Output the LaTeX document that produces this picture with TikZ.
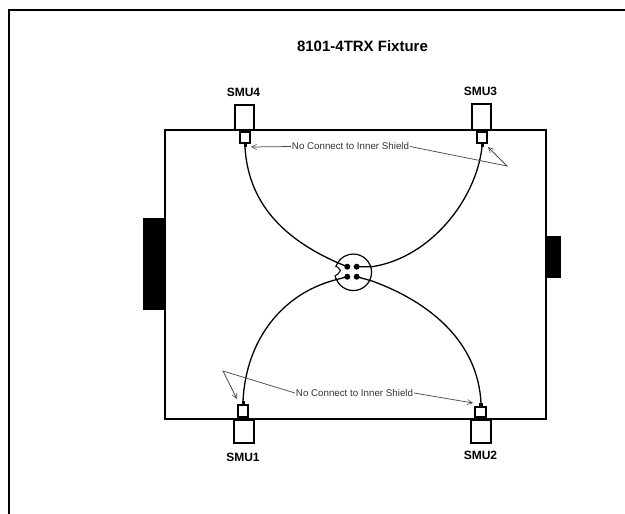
\documentclass[tikz,border=0pt]{standalone}
\usepackage{fontspec}
\setmainfont{Liberation Sans}
\usetikzlibrary{arrows.meta}
\tikzset{
  x=1pt,y=-1pt,
  outline/.style={draw=black,fill=white,line width=1.5pt,inner sep=0pt,outer sep=0pt,anchor=north west},
  blackblock/.style={draw=none,fill=black,inner sep=0pt,outer sep=0pt,anchor=north west},
  cable/.style={draw=black,line width=1.3pt},
  leader/.style={draw=black!70,line width=.75pt},
  leaderarrow/.style={leader,-{Straight Barb[length=5pt,width=5pt,line width=.6pt]}},
  smulabel/.style={font=\bfseries\fontsize{12}{14}\selectfont,inner sep=0pt},
  note/.style={font=\fontsize{9.75}{12}\selectfont,text=black!80,inner sep=0pt,outer sep=1pt},
  pindot/.style={circle,fill=black,minimum size=6pt,inner sep=0pt}
}
\begin{document}
\begin{tikzpicture}
\useasboundingbox (0,0) rectangle (625,514);
\fill[white] (0,0) rectangle (625,514);
% page frame
\draw[line width=2pt] (8.5,514) -- (8.5,10) -- (625,10);
\node[font=\bfseries\fontsize{15}{17}\selectfont,inner sep=0pt] (title) at (362.5,46.5) {8101-4TRX Fixture};
% blocks
\node[blackblock,minimum width=22pt,minimum height=92pt] (leftblock) at (143,218) {};
\node[blackblock,minimum width=15pt,minimum height=42pt] (rightblock) at (546,236) {};
\node[outline,line width=1.3pt,fill=none,minimum width=381pt,minimum height=289pt] (body) at (165,130) {};
% SMU4
\node[outline,minimum width=19pt,minimum height=25pt] (smu4) at (235,105) {};
\node[outline,minimum width=10pt,minimum height=11pt] (con4) at (240,132) {};
\fill[black] (240,130) rectangle (250,132);
\node[smulabel] (l4) at (243.5,92) {SMU4};
% SMU3
\node[outline,minimum width=19pt,minimum height=26pt] (smu3) at (472,104) {};
\node[outline,minimum width=10pt,minimum height=11pt] (con3) at (477,132) {};
\fill[black] (477,130) rectangle (487,132);
\node[smulabel] (l3) at (480.5,91) {SMU3};
% SMU1
\node[outline,minimum width=20pt,minimum height=23pt] (smu1) at (234,420) {};
\node[outline,minimum width=10pt,minimum height=12pt] (con1) at (238,405) {};
\fill[black] (238,417) rectangle (248,420);
\node[smulabel] (l1) at (243,457) {SMU1};
% SMU2
\node[outline,minimum width=20pt,minimum height=23pt] (smu2) at (471,420) {};
\node[outline,minimum width=11pt,minimum height=10pt] (con2) at (475,407) {};
\fill[black] (475,417) rectangle (486,420);
\node[smulabel] (l2) at (480.5,455) {SMU2};
% connector
\node[circle,draw=black,fill=white,line width=1.2pt,minimum size=36.5pt,inner sep=0pt] (hub) at (353.3,272.3) {};
\fill[white] (333,267) rectangle (336.5,277.5);
\draw[line width=1pt] (335.5,266) -- (338,267.5) -- (340.5,270.5) -- (338,274) -- (335,276) -- (336,279);
\coordinate (p4c) at (347.3,266.7);
\node[pindot] (p4) at (p4c) {};
\node[pindot] (p3) at (356.7,266.7) {};
\node[pindot] (p1) at (347.3,276.7) {};
\node[pindot] (p2) at (356.7,276.7) {};
% pins
\fill[black] (243.5,143) rectangle (246.5,147);
\fill[black] (480.5,143) rectangle (483.5,147);
\fill[black] (241.5,401) rectangle (244.5,405);
\fill[black] (479,403) rectangle (482.5,407);
\coordinate (c4) at (245,147);
\coordinate (c3) at (482,147);
\coordinate (c1) at (243,401);
\coordinate (c2) at (481,403);
\coordinate (h3) at (372,266.7);
\coordinate (h1) at (335,280);
\coordinate (h2) at (372,281);
% cables
\path[cable] (c4) .. controls (248,200) and (280,240) .. (p4.center);
\path[cable] (c3) .. controls (476,200) and (430,258) .. (h3) -- (p3.center);
\path[cable] (c1) .. controls (246,340) and (282,294) .. (h1) -- (p1.center);
\path[cable] (c2) .. controls (478,342) and (430,302) .. (h2) -- (p2.center);
% notes
\node[note,fill=white] (n1) at (350.5,146.5) {No Connect to Inner Shield};
\node[note,fill=white] (n2) at (354.5,393) {No Connect to Inner Shield};
\coordinate (a4) at (251,147);
\coordinate (kink3) at (507,166);
\coordinate (a3) at (488,147);
\coordinate (kink1) at (223,371);
\coordinate (a1) at (237,399);
\coordinate (a2) at (473,403);
\path[leaderarrow] (n1.west) -- (a4);
\path[leaderarrow] (n1.east) -- (kink3) -- (a3);
\path[leaderarrow] (n2.west) -- (kink1) -- (a1);
\path[leaderarrow] (n2.east) -- (a2);
\end{tikzpicture}
\end{document}
